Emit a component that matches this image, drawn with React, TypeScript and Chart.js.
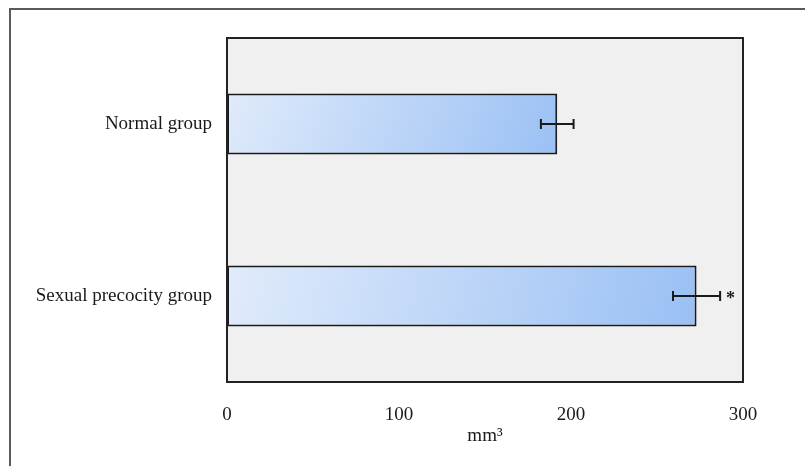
import { useEffect, useRef } from "react";
import { Chart, registerables } from "chart.js";

Chart.register(...registerables);

// Group volumes (mm³) with their error half-widths
const categories = ["Normal group", "Sexual precocity group"];
const volumes = [192, 273];
const errors = [9.5, 13.7];
const markers = ["", "*"];
const xMin = 0;
const xMax = 300;
const xStep = 100;
const axisTitle = "mm³";

const FONT = '"Liberation Serif", "Times New Roman", serif';
const INK = "#1a1a1a";
const BAR_PCT = 0.355;

const frameAndErrors = {
  id: "frameAndErrors",
  beforeDraw(chart: any) {
    const { ctx, chartArea: a } = chart;
    ctx.save();
    ctx.fillStyle = "#f0f0f0";
    ctx.fillRect(a.left, a.top, a.right - a.left, a.bottom - a.top);
    ctx.restore();
  },
  afterDatasetsDraw(chart: any) {
    const { ctx } = chart;
    const xs = chart.scales.x;
    const meta = chart.getDatasetMeta(0);
    ctx.save();
    ctx.strokeStyle = INK;
    ctx.lineWidth = 2;
    meta.data.forEach((bar: any, i: number) => {
      const y = bar.y;
      const lo = xs.getPixelForValue(volumes[i] - errors[i]);
      const hi = xs.getPixelForValue(volumes[i] + errors[i]);
      ctx.beginPath();
      ctx.moveTo(lo, y);
      ctx.lineTo(hi, y);
      ctx.moveTo(lo, y - 5);
      ctx.lineTo(lo, y + 5);
      ctx.moveTo(hi, y - 5);
      ctx.lineTo(hi, y + 5);
      ctx.stroke();
      if (markers[i]) {
        ctx.fillStyle = INK;
        ctx.font = `bold 18px ${FONT}`;
        ctx.textAlign = "left";
        ctx.textBaseline = "alphabetic";
        ctx.fillText(markers[i], hi + 6, y + 8);
      }
    });
    ctx.restore();
  },
  afterDraw(chart: any) {
    const { ctx, chartArea: a } = chart;
    ctx.save();
    ctx.strokeStyle = "#222";
    ctx.lineWidth = 2;
    ctx.strokeRect(a.left, a.top, a.right - a.left, a.bottom - a.top);
    ctx.restore();
  },
};

export default function App() {
  const ref = useRef<HTMLCanvasElement | null>(null);

  useEffect(() => {
    if (!ref.current) return;
    const chart = new Chart(ref.current, {
      type: "bar",
      data: {
        labels: categories,
        datasets: [
          {
            data: volumes,
            backgroundColor: (ctx: any) => {
              const chart = ctx.chart;
              if (!chart.chartArea || ctx.type !== "data") return "#c2d8f8";
              const xs = chart.scales.x;
              const ys = chart.scales.y;
              const x0 = xs.getPixelForValue(xMin);
              const x1 = xs.getPixelForValue(ctx.raw);
              const yc = ys.getPixelForValue(ctx.dataIndex);
              const half = ((ys.bottom - ys.top) / categories.length) * BAR_PCT / 2;
              const g = chart.ctx.createLinearGradient(x0, yc - half * 2, x1, yc + half * 2);
              g.addColorStop(0, "#e2ecfb");
              g.addColorStop(1, "#98bff4");
              return g;
            },
            borderColor: INK,
            borderWidth: 2,
            borderSkipped: false,
            barPercentage: BAR_PCT,
            categoryPercentage: 1,
          },
        ],
      },
      options: {
        indexAxis: "y",
        responsive: false,
        animation: false,
        layout: { padding: { top: 38, right: 62, bottom: 14, left: 0 } },
        plugins: { legend: { display: false }, tooltip: { enabled: false } },
        scales: {
          x: {
            min: xMin,
            max: xMax,
            ticks: {
              stepSize: xStep,
              color: INK,
              font: { family: FONT, size: 19 },
              padding: 22,
            },
            grid: { display: false, drawTicks: false },
            border: { display: false },
            title: {
              display: true,
              text: axisTitle,
              color: INK,
              font: { family: FONT, size: 19 },
              padding: { top: 0, bottom: 5 },
            },
            afterFit: (s: any) => {
              s.height = 70;
            },
          },
          y: {
            ticks: {
              color: INK,
              font: { family: FONT, size: 19 },
              padding: 15,
            },
            grid: { display: false, drawTicks: false },
            border: { display: false },
            afterFit: (s: any) => {
              s.width = 227;
            },
          },
        },
      },
      plugins: [frameAndErrors],
    });
    return () => chart.destroy();
  }, []);

  return (
    <div
      style={{
        position: "fixed",
        left: 0,
        top: 0,
        width: 805,
        height: 466,
        background: "#fff",
        overflow: "hidden",
      }}
    >
      <div
        style={{
          position: "absolute",
          left: 9,
          top: 8,
          width: 1000,
          height: 1000,
          borderLeft: "2px solid #5a5a5a",
          borderTop: "2px solid #5a5a5a",
        }}
      />
      <canvas
        ref={ref}
        width={805}
        height={466}
        style={{ position: "absolute", left: 0, top: 0 }}
      />
    </div>
  );
}
